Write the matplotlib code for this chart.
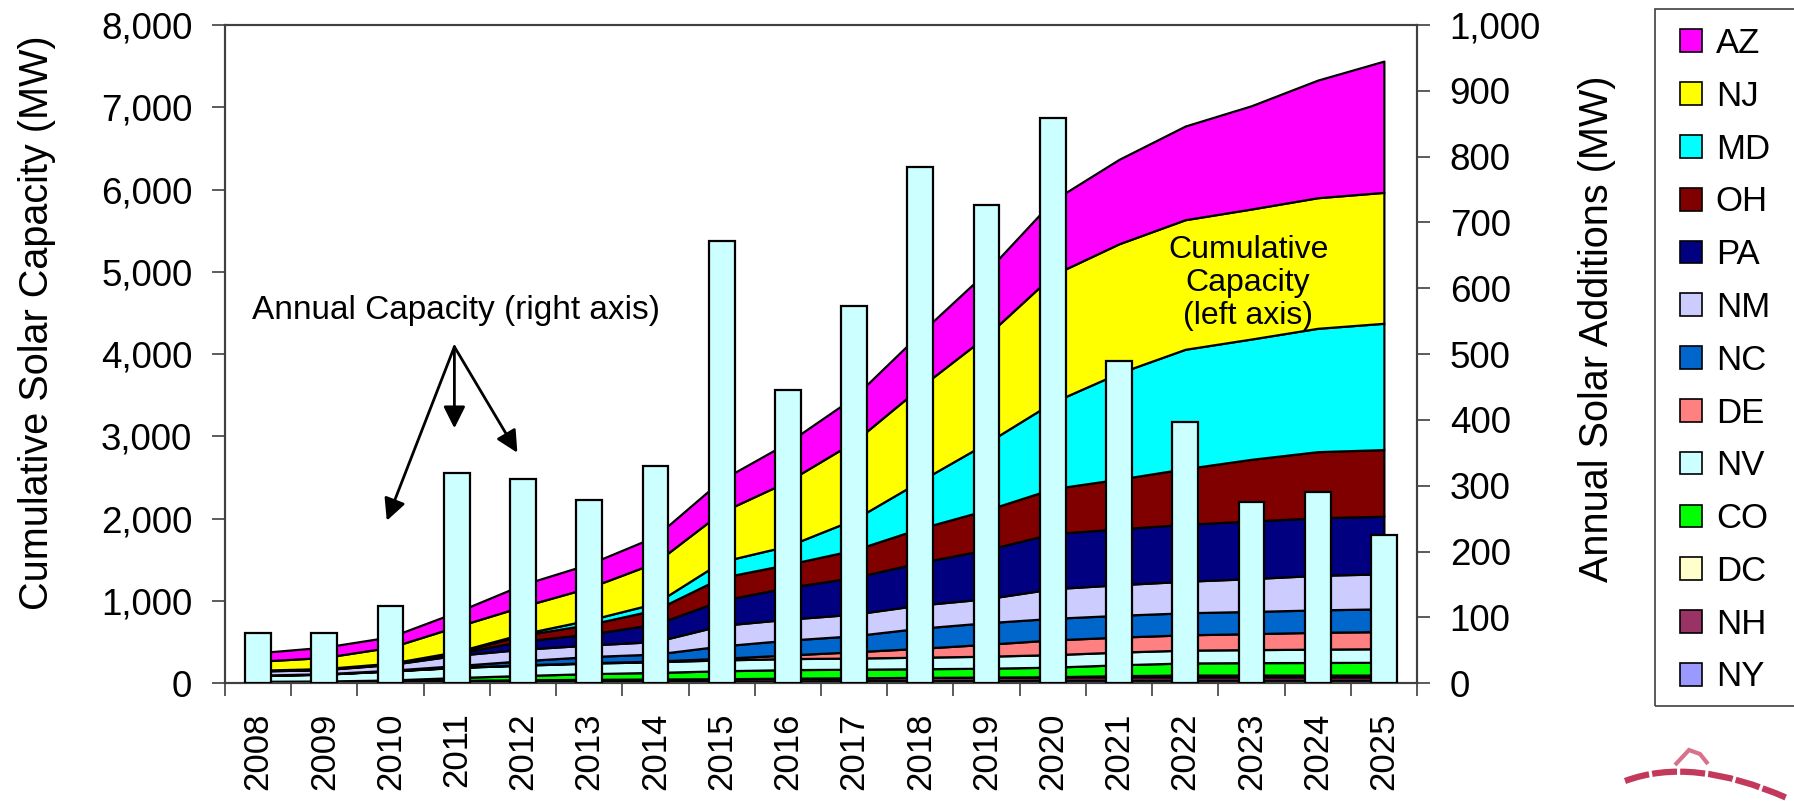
import numpy as np
import matplotlib
matplotlib.use("Agg")
import matplotlib.pyplot as plt
from matplotlib.patches import Patch, Rectangle, PathPatch
from matplotlib.path import Path
from matplotlib.ticker import FuncFormatter, MultipleLocator

plt.rcParams['font.family'] = ['Liberation Sans', 'DejaVu Sans']

years = [str(y) for y in range(2008, 2026)]

# Cumulative solar capacity by state (MW), listed bottom of stack to top
NY = [10, 11, 13, 17, 20, 23, 25, 27, 30, 32, 35, 36, 38, 38, 38, 38, 38, 38]
NH = [10, 11, 15, 18, 22, 25, 27, 29, 32, 35, 37, 39, 40, 40, 40, 40, 40, 40]
DC = [0, 0, 0, 0, 0, 0, 0, 0, 0, 0, 0, 0, 2, 15, 22, 22, 22, 22]
CO = [4, 6, 12, 35, 53, 69, 80, 96, 104, 104, 105, 108, 116, 132, 147, 151, 153, 155]
NV = [70, 82, 110, 122, 125, 128, 130, 132, 134, 136, 140, 146, 152, 154, 156, 158, 162, 165]
DE = [2, 2, 2, 3, 4, 5, 8, 20, 44, 76, 108, 145, 179, 182, 186, 194, 205, 208]
NC = [3, 4, 6, 20, 50, 75, 85, 150, 180, 195, 245, 262, 262, 265, 268, 270, 272, 277]
NM = [50, 50, 70, 125, 140, 140, 152, 250, 255, 262, 282, 292, 360, 372, 383, 399, 420, 425]
PA = [4, 5, 6, 25, 100, 133, 212, 304, 386, 446, 516, 596, 670, 679, 692, 700, 700, 700]
OH = [3, 4, 5, 12, 70, 117, 174, 278, 280, 334, 415, 482, 546, 604, 676, 750, 803, 810]
MD = [3, 4, 5, 8, 19, 55, 79, 194, 225, 371, 577, 814, 1051, 1290, 1451, 1462, 1499, 1535]
NJ = [109, 135, 194, 305, 333, 393, 494, 602, 785, 945, 1140, 1302, 1546, 1570, 1575, 1580, 1587, 1591]
AZ = [103, 125, 127, 177, 265, 287, 318, 392, 470, 543, 657, 780, 904, 1026, 1138, 1255, 1429, 1595]

# Annual solar additions (MW), right axis
annual_additions = [76, 76, 118, 320, 310, 278, 330, 672, 445, 573, 785, 727, 859, 490, 397, 275, 290, 226]

state_names = ['NY', 'NH', 'DC', 'CO', 'NV', 'DE', 'NC', 'NM', 'PA', 'OH', 'MD', 'NJ', 'AZ']
state_values = [NY, NH, DC, CO, NV, DE, NC, NM, PA, OH, MD, NJ, AZ]
state_colors = ['#9999FF', '#993366', '#FFFFCC', '#00FF00', '#CCFFFF', '#FF8080',
                '#0066CC', '#CCCCFF', '#000080', '#800000', '#00FFFF', '#FFFF00', '#FF00FF']

W, H = 1794, 801
fig = plt.figure(figsize=(W / 100, H / 100), dpi=100)
fig.patch.set_facecolor('white')

x0, x1, ytop, ybot = 225, 1417, 25, 683.3
ax = fig.add_axes([x0 / W, 1 - ybot / H, (x1 - x0) / W, (ybot - ytop) / H])
x = np.arange(len(years))

ax.stackplot(x, *state_values, colors=state_colors, edgecolor='black', linewidth=1.6)
ax.set_xlim(-0.5, len(years) - 0.5)
ax.set_ylim(0, 8000)
ax.yaxis.set_major_locator(MultipleLocator(1000))
ax.yaxis.set_major_formatter(FuncFormatter(lambda v, p: f"{int(v):,}"))

ax2 = ax.twinx()
ax2.bar(x, annual_additions, width=0.39, color='#CCFFFF', edgecolor='black', linewidth=1.6, zorder=3)
ax2.set_ylim(0, 1000)
ax2.yaxis.set_major_locator(MultipleLocator(100))
ax2.yaxis.set_major_formatter(FuncFormatter(lambda v, p: f"{int(v):,}"))

for a in (ax, ax2):
    for s in a.spines.values():
        s.set_color('#404040')
        s.set_linewidth(1.5)

ax.tick_params(axis='y', which='major', direction='out', length=9.5, width=1.2,
               color='#404040', pad=14, labelsize=26.5)
ax2.tick_params(axis='y', which='major', direction='out', length=9.5, width=1.2,
                color='#404040', pad=14, labelsize=26.5)

ax.set_xticks(x)
ax.set_xticklabels(years, rotation=90)
ax.tick_params(axis='x', which='major', length=0, pad=21, labelsize=25)
ax.set_xticks(np.arange(-0.5, len(years), 1), minor=True)
ax.tick_params(axis='x', which='minor', direction='out', length=9, width=1.2, color='#404040')

fig.text(37 / W, 1 - 323 / H, 'Cumulative Solar Capacity (MW)', rotation=90,
         ha='center', va='center', fontsize=28.5)
fig.text(1597 / W, 1 - 329 / H, 'Annual Solar Additions (MW)', rotation=90,
         ha='center', va='center', fontsize=28.5)

# Annotations
ax2.text(2.995, 4536, 'Annual Capacity (right axis)', transform=ax.transData,
         ha='center', va='center', fontsize=24, zorder=5)
ax2.text(14.95, 4865, 'Cumulative\nCapacity\n(left axis)', transform=ax.transData,
         ha='center', va='center', fontsize=23, linespacing=1.15, zorder=5)

apex = (2.964, 4090)
for tip in [(1.943, 1976), (2.964, 3099), (3.915, 2802)]:
    ax2.annotate('', xy=tip, xytext=apex, xycoords=ax.transData, textcoords=ax.transData,
                 arrowprops=dict(arrowstyle='-|>,head_length=0.6,head_width=0.3', color='black',
                                 lw=2, mutation_scale=22, shrinkA=0, shrinkB=0), zorder=5)

# Legend (listed top of stack first)
handles = [Patch(facecolor=c, edgecolor='black', linewidth=1.2)
           for c in state_colors[::-1]]
fig.legend(handles, state_names[::-1], loc='upper left',
           bbox_to_anchor=(1680 / W, 1 - 27 / H), bbox_transform=fig.transFigure,
           frameon=False, fontsize=25, handlelength=0.63, handleheight=0.63,
           handletextpad=0.4, labelspacing=0.57, borderpad=0, borderaxespad=0)
fig.patches.append(Rectangle((1655 / W, 1 - 706 / H), 0.2, (706 - 9) / H,
                             transform=fig.transFigure, fill=False,
                             edgecolor='#404040', linewidth=1.2))

# Corner emblem arc
def px(xp, yp):
    return (xp / W, 1 - yp / H)

arc = Path([px(1625, 781), px(1692, 756), px(1787, 798)],
           [Path.MOVETO, Path.CURVE3, Path.CURVE3])
fig.patches.append(PathPatch(arc, transform=fig.transFigure, fill=False,
                             edgecolor='#B8163F', linewidth=4.5, alpha=0.85,
                             linestyle=(0, (4, 0.5))))
bump = Path([px(1675, 765), px(1689, 750), px(1700, 754), px(1708, 764)],
            [Path.MOVETO, Path.LINETO, Path.LINETO, Path.LINETO])
fig.patches.append(PathPatch(bump, transform=fig.transFigure, fill=False,
                             edgecolor='#C8365A', linewidth=3, alpha=0.7))

fig.savefig('out.png', dpi=100, facecolor='white')
